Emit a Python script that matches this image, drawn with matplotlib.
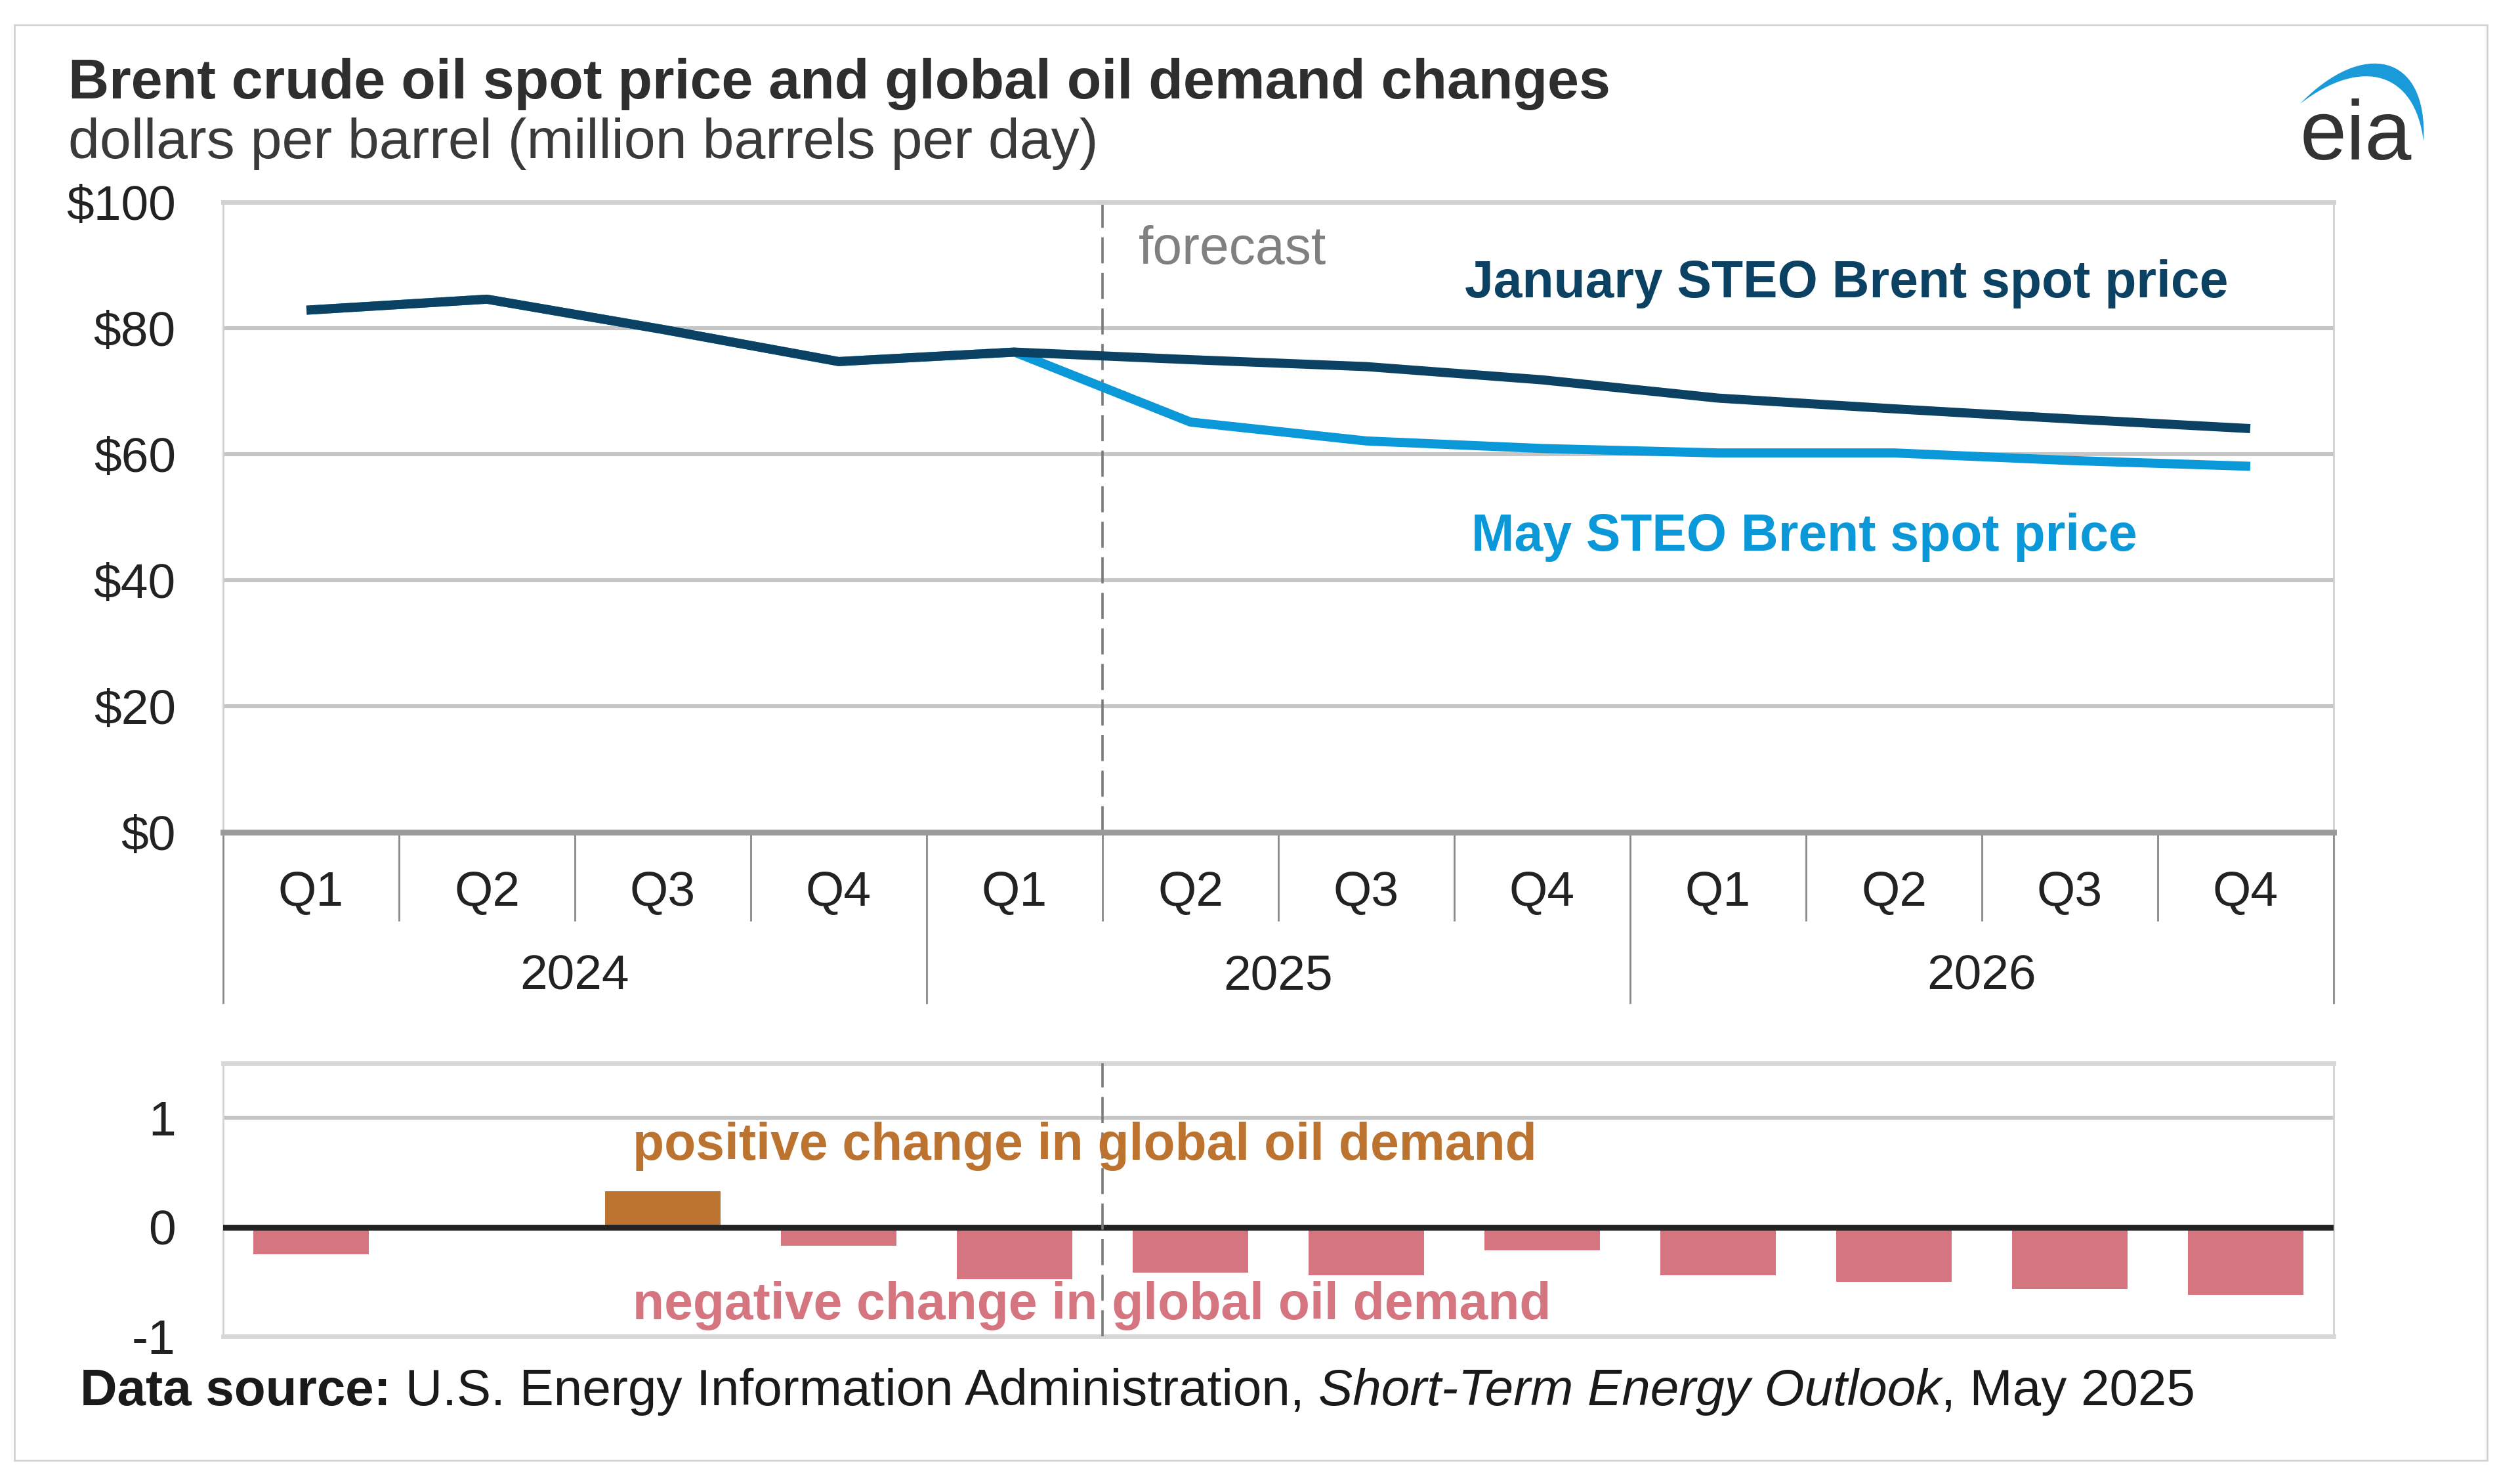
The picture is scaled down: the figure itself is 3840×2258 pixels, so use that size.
import numpy as np
import matplotlib
matplotlib.use("Agg")
import matplotlib.pyplot as plt
import matplotlib.transforms as mtransforms
from matplotlib.patches import Rectangle, PathPatch
from matplotlib.path import Path

plt.rcParams['font.family'] = ['Liberation Sans', 'DejaVu Sans']

# data
quarters = ["Q1", "Q2", "Q3", "Q4"] * 3
years = ["2024", "2025", "2026"]
jan_steo = [82.9, 84.6, 79.8, 74.7, 76.2, 75.0, 73.9, 71.8, 68.9, 67.2, 65.6, 64.1]
may_steo = [82.9, 84.6, 79.8, 74.7, 76.2, 65.1, 62.1, 60.9, 60.2, 60.2, 59.0, 58.1]
demand_change = [-0.25, 0.0, 0.33, -0.17, -0.48, -0.42, -0.44, -0.21, -0.44, -0.50, -0.57, -0.62]
price_ticks = [0, 20, 40, 60, 80, 100]
demand_ticks = [-1, 0, 1]
forecast_start = 4.5

navy = "#0b4263"
light = "#0a98d8"
pos_col = "#bd7330"
neg_col = "#d47580"
txt = "#222222"

W, H = 3840, 2258
fig = plt.figure(figsize=(19.2, 11.29), dpi=200)

# outer frame
fig.patches.append(Rectangle((22 / W, 1 - 2225 / H), (3790 - 22) / W, (2225 - 38) / H,
                             transform=fig.transFigure, fill=False, ec="#d3d3d3", lw=1.0))

x = np.arange(len(quarters))

# ---- price panel
ax = fig.add_axes([340 / W, 1 - 1268 / H, 3216 / W, 960 / H])
ax.plot(x, may_steo, color=light, lw=5, solid_joinstyle="round", zorder=3)
ax.plot(x, jan_steo, color=navy, lw=5, solid_joinstyle="round", zorder=4)
ax.set_xlim(-0.5, 11.5)
ax.set_ylim(0, 100)
ax.set_yticks(price_ticks)
ax.set_yticklabels(["$%d" % v for v in price_ticks])
ax.set_xticks([])
ax.tick_params(axis="y", length=0, pad=26, labelsize=27, labelcolor=txt)
ax.yaxis.grid(True, color="#c6c6c6", lw=2.2)
ax.set_axisbelow(True)
ax.spines["top"].set_color("#d2d2d2")
ax.spines["top"].set_linewidth(2.5)
for s in ["left", "right"]:
    ax.spines[s].set_color("#d0d0d0")
    ax.spines[s].set_linewidth(1.0)
ax.spines["bottom"].set_color("#9a9a9a")
ax.spines["bottom"].set_linewidth(3.2)
ax.axvline(forecast_start, color="#7a7a7a", lw=1.3, dashes=(11, 4), zorder=2)

# category axis below
trans = mtransforms.blended_transform_factory(ax.transData, ax.transAxes)
for i, q in enumerate(quarters):
    ax.text(i, -0.1167, q, transform=trans, ha="center", va="baseline", fontsize=27, color=txt)
for k, yr in enumerate(years):
    ax.text(k * 4 + 1.5, -0.25, yr, transform=trans, ha="center", va="baseline", fontsize=27, color=txt)
for b in np.arange(-0.5, 12, 1.0):
    low = -0.271 if (b + 0.5) % 4 == 0 else -0.1396
    ax.plot([b, b], [0, low], transform=trans, color="#8a8a8a", lw=1.0, clip_on=False)

ax.text(1735 / W, 1 - 402 / H, "forecast", transform=fig.transFigure, fontsize=29,
        color="#808080", ha="left", va="baseline")
ax.text(2232 / W, 1 - 453 / H, "January STEO Brent spot price", transform=fig.transFigure,
        fontsize=28.3, color=navy, fontweight="bold", ha="left", va="baseline")
ax.text(2242 / W, 1 - 839 / H, "May STEO Brent spot price", transform=fig.transFigure,
        fontsize=28.3, color=light, fontweight="bold", ha="left", va="baseline")

# ---- demand change panel
ax2 = fig.add_axes([340 / W, 1 - 2036 / H, 3216 / W, 416 / H])
colors = [pos_col if v > 0 else neg_col for v in demand_change]
ax2.bar(x, demand_change, width=0.66, color=colors, zorder=2)
ax2.set_xlim(-0.5, 11.5)
ax2.set_ylim(-1, 1.5)
ax2.set_yticks(demand_ticks)
ax2.set_yticklabels([str(v) for v in demand_ticks])
ax2.set_xticks([])
ax2.tick_params(axis="y", length=0, pad=26, labelsize=27, labelcolor=txt)
ax2.axhline(1, color="#c6c6c6", lw=2.2, zorder=1)
ax2.axhline(0, color="#222222", lw=3.2, zorder=3)
ax2.axvline(forecast_start, color="#7a7a7a", lw=1.3, dashes=(11, 4), zorder=4)
for s in ["top", "bottom"]:
    ax2.spines[s].set_color("#d8d8d8")
    ax2.spines[s].set_linewidth(2.5)
for s in ["left", "right"]:
    ax2.spines[s].set_color("#d3d3d3")
    ax2.spines[s].set_linewidth(1.0)
ax2.text(964 / W, 1 - 1767 / H, "positive change in global oil demand", transform=fig.transFigure,
         fontsize=28.3, color=pos_col, fontweight="bold", ha="left", va="baseline", zorder=5)
ax2.text(964 / W, 1 - 2010 / H, "negative change in global oil demand", transform=fig.transFigure,
         fontsize=28.3, color=neg_col, fontweight="bold", ha="left", va="baseline", zorder=5)

# ---- titles
fig.text(104 / W, 1 - 150 / H, "Brent crude oil spot price and global oil demand changes",
         fontsize=31, fontweight="bold", color="#2e2e2e", ha="left", va="baseline")
fig.text(104 / W, 1 - 241 / H, "dollars per barrel (million barrels per day)",
         fontsize=31, color="#3a3a3a", ha="left", va="baseline")

# ---- eia logo
fig.text(3505 / W, 1 - 243 / H, "eia", fontsize=46, color="#333333", ha="left", va="baseline")
pts = [(3505, 158), (3600, 60), (3700, 80), (3693, 215),
       (3680, 110), (3600, 85), (3505, 158), (3505, 158)]
codes = [Path.MOVETO, Path.CURVE4, Path.CURVE4, Path.CURVE4,
         Path.CURVE4, Path.CURVE4, Path.CURVE4, Path.CLOSEPOLY]
arc = Path([(px / W, 1 - py / H) for px, py in pts], codes)
fig.patches.append(PathPatch(arc, transform=fig.transFigure, fc="#1a9ad8", ec="none"))

# ---- source line
renderer = fig.canvas.get_renderer()
pieces = [("Data source:", "bold", "normal"),
          (" U.S. Energy Information Administration, ", "normal", "normal"),
          ("Short-Term Energy Outlook", "normal", "italic"),
          (", May 2025", "normal", "normal")]
xpos = 122 / W
for s, wgt, sty in pieces:
    t = fig.text(xpos, 1 - 2141 / H, s, fontsize=28.2, fontweight=wgt, fontstyle=sty,
                 color="#1a1a1a", ha="left", va="baseline")
    bb = t.get_window_extent(renderer=renderer)
    xpos += bb.width / W

fig.savefig("out.png", dpi=200)
